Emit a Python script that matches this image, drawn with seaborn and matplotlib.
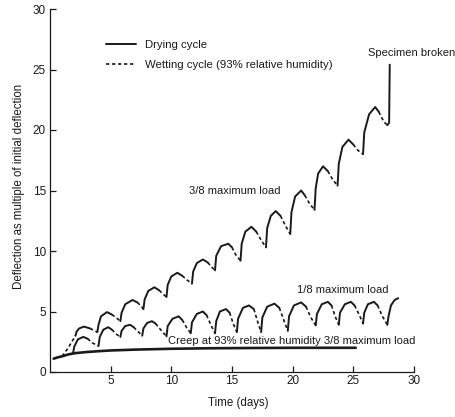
import numpy as np
import pandas as pd
import matplotlib
matplotlib.use("Agg")
import matplotlib.pyplot as plt
from matplotlib.lines import Line2D
import seaborn as sns

# ---------------- data ----------------
# 3/8 maximum load path; kind38[i] is the style of segment i -> i+1 (D = drying, W = wetting)
t38 = [1.0, 1.5, 2.1,
       2.2, 2.4, 2.8, 3.3, 3.6, 3.9,
       4.0, 4.2, 4.7, 5.1, 5.5, 5.8,
       5.9, 6.2, 6.8, 7.2, 7.5, 7.7,
       7.8, 8.1, 8.6, 9.0, 9.3, 9.6,
       9.7, 10.0, 10.5, 10.9, 11.3, 11.7,
       11.8, 12.1, 12.6, 13.0, 13.3, 13.6,
       13.7, 14.1, 14.7, 15.0, 15.3, 15.7,
       15.8, 16.1, 16.6, 17.0, 17.4, 17.8,
       17.9, 18.2, 18.6, 19.0, 19.4, 19.8,
       19.9, 20.2, 20.7, 21.0, 21.4, 21.8,
       21.9, 22.1, 22.5, 22.9, 23.3, 23.7,
       23.8, 24.1, 24.6, 25.0, 25.4, 25.8,
       25.9, 26.3, 26.8, 27.1, 27.5, 27.8,
       27.95, 28.0]
v38 = [1.3, 2.0, 3.0,
       3.35, 3.6, 3.75, 3.6, 3.45, 3.3,
       3.9, 4.6, 4.95, 4.75, 4.45, 4.2,
       4.9, 5.6, 5.95, 5.75, 5.45, 5.2,
       6.0, 6.7, 7.0, 6.75, 6.45, 6.2,
       7.2, 7.9, 8.2, 7.95, 7.6, 7.3,
       8.3, 9.0, 9.3, 9.05, 8.7, 8.4,
       9.6, 10.4, 10.6, 10.3, 9.7, 9.2,
       10.6, 11.6, 12.0, 11.6, 10.9, 10.3,
       11.9, 12.9, 13.3, 12.9, 12.1, 11.4,
       13.2, 14.5, 15.0, 14.6, 13.9, 13.4,
       15.2, 16.4, 17.0, 16.6, 15.9, 15.4,
       17.2, 18.6, 19.2, 18.8, 18.3, 18.0,
       19.8, 21.3, 21.9, 21.5, 20.7, 20.4,
       20.6, 25.4]
kind38 = "WW" + "DDDDWW" * 13 + "DD"

# 1/8 maximum load path
t18 = [1.9,
       2.0, 2.3, 2.75, 3.1, 3.5, 4.0,
       4.1, 4.4, 4.8, 5.1, 5.5, 5.8,
       5.9, 6.2, 6.6, 6.9, 7.3, 7.6,
       7.7, 8.0, 8.4, 8.7, 9.2, 9.6,
       9.7, 10.1, 10.6, 10.9, 11.3, 11.6,
       11.7, 12.1, 12.6, 12.9, 13.3, 13.6,
       13.7, 14.0, 14.5, 14.8, 15.1, 15.4,
       15.5, 15.9, 16.4, 16.8, 17.1, 17.4,
       17.5, 17.9, 18.5, 18.9, 19.3, 19.6,
       19.7, 20.1, 20.7, 21.1, 21.5, 21.9,
       22.0, 22.4, 22.9, 23.2, 23.5, 23.8,
       23.9, 24.3, 24.8, 25.1, 25.5, 25.8,
       25.9, 26.2, 26.7, 27.0, 27.4, 27.8,
       27.9, 28.1, 28.4, 28.7]
v18 = [1.55,
       2.1, 2.7, 2.9, 2.75, 2.4, 2.15,
       2.9, 3.5, 3.7, 3.5, 3.1, 2.9,
       3.4, 3.8, 3.9, 3.7, 3.3, 3.0,
       3.6, 4.05, 4.2, 4.0, 3.4, 2.95,
       3.8, 4.4, 4.6, 4.3, 3.6, 3.2,
       4.1, 4.8, 5.0, 4.7, 3.8, 3.2,
       4.2, 5.0, 5.2, 4.9, 4.0, 3.3,
       4.4, 5.3, 5.5, 5.2, 4.2, 3.3,
       4.5, 5.4, 5.65, 5.3, 4.2, 3.4,
       4.6, 5.5, 5.75, 5.4, 4.5, 3.85,
       4.8, 5.6, 5.8, 5.5, 4.6, 3.9,
       4.9, 5.6, 5.8, 5.5, 4.7, 4.0,
       4.9, 5.6, 5.8, 5.5, 4.6, 3.9,
       4.6, 5.5, 5.95, 6.1]
kind18 = "DDDDWW" * 13 + "DDDD"

# creep at 93% RH, 3/8 maximum load
t_creep = [0.3, 0.6, 1.0, 1.5, 2.0, 3.0, 4.0, 5.0, 7.0, 10.0, 13.0, 16.0, 20.0, 25.2]
v_creep = [1.1, 1.2, 1.3, 1.45, 1.55, 1.65, 1.72, 1.78, 1.85, 1.92, 1.96, 1.98, 2.0, 2.0]

x_ticks = [5, 10, 15, 20, 25, 30]
y_ticks = [0, 5, 10, 15, 20, 25, 30]


def runs(curve, ts, vs, kinds):
    rows = []
    run_id = 0
    for i, k in enumerate(kinds):
        if i > 0 and kinds[i - 1] != k:
            run_id += 1
        rows.append((curve, f"{curve}-{run_id}", k, ts[i], vs[i]))
        rows.append((curve, f"{curve}-{run_id}", k, ts[i + 1], vs[i + 1]))
    df = pd.DataFrame(rows, columns=["curve", "run", "kind", "t", "v"])
    return df.drop_duplicates()


df = pd.concat([runs("3/8", t38, v38, kind38), runs("1/8", t18, v18, kind18)],
               ignore_index=True)
creep = pd.DataFrame({"t": t_creep, "v": v_creep})

# ---------------- figure ----------------
sns.set_style("ticks")
plt.rcParams["font.family"] = ["Liberation Sans", "DejaVu Sans"]
ink = "#1a1a1a"

fig = plt.figure(figsize=(4.56, 4.17), dpi=100)
ax = fig.add_axes([50 / 456, 45 / 417, 364 / 456, 363 / 417])

sns.lineplot(data=creep, x="t", y="v", color=ink, lw=1.9, ax=ax, sort=False)
sns.lineplot(data=df[df.kind == "D"], x="t", y="v", units="run", estimator=None,
             sort=False, color=ink, lw=1.4, ax=ax)
sns.lineplot(data=df[df.kind == "W"], x="t", y="v", units="run", estimator=None,
             sort=False, color=ink, lw=1.2, linestyle=(0, (2.0, 1.6)), ax=ax)

ax.set_xlim(0, 30)
ax.set_ylim(0, 30)
ax.set_xticks(x_ticks)
ax.set_yticks(y_ticks)
ax.tick_params(direction="in", length=4, width=0.9, colors=ink, labelsize=8.5, pad=3)
ax.tick_params(axis="x", pad=2)
for s in ["top", "right"]:
    ax.spines[s].set_visible(False)
for s in ["left", "bottom"]:
    ax.spines[s].set_color(ink)
    ax.spines[s].set_linewidth(0.9)

ax.set_xlabel("Time (days)", fontsize=8.3, color=ink)
ax.set_ylabel("Deflection as multiple of initial deflection", fontsize=8.3, color=ink)
ax.xaxis.set_label_coords(0.516, -0.069)
ax.yaxis.set_label_coords(-0.068, 0.512)

txt = dict(fontsize=8.0, color=ink)
ax.text(15.2, 15.0, "3/8 maximum load", ha="center", va="center", **txt)
ax.text(24.1, 6.8, "1/8 maximum load", ha="center", va="center", **txt)
ax.text(9.7, 2.56, "Creep at 93% relative humidity 3/8 maximum load",
        ha="left", va="center", **txt)
ax.text(26.2, 26.4, "Specimen broken", ha="left", va="center", clip_on=False, **txt)

handles = [Line2D([], [], color=ink, lw=1.4),
           Line2D([], [], color=ink, lw=1.2, linestyle=(0, (2.0, 1.6)))]
fig.legend(handles, ["Drying cycle", "Wetting cycle (93% relative humidity)"],
           loc="upper left", bbox_to_anchor=(106 / 456, 1 - 40 / 417),
           frameon=False, fontsize=8.2, handlelength=2.6, handletextpad=0.8,
           labelspacing=0.85, borderpad=0, borderaxespad=0, labelcolor=ink)

fig.savefig("out.png", dpi=100)
